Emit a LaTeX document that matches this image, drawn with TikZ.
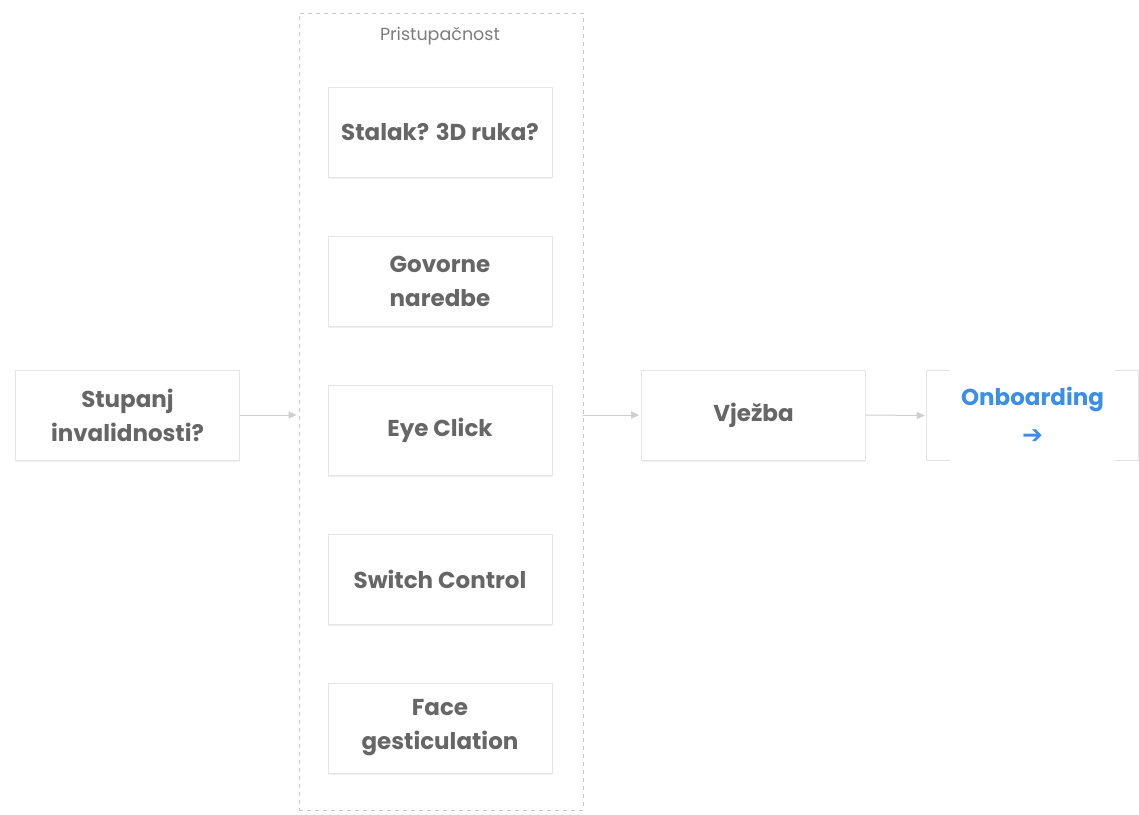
\documentclass[tikz,border=0pt]{standalone}
\usepackage{fontspec}
\setmainfont{Poppins}
\newfontfamily\arrowfont{DejaVu Sans}
\usetikzlibrary{arrows.meta,shadows}
\definecolor{txt}{HTML}{666666}
\definecolor{bord}{HTML}{E6E6E6}
\definecolor{conn}{HTML}{CFCFCF}
\definecolor{dash}{HTML}{C8C8C8}
\definecolor{blue}{HTML}{3B8FE8}
\tikzset{
  card/.style={draw=bord, line width=0.8pt, fill=white, minimum width=224pt, minimum height=90pt,
    align=center, text=txt, font=\fontsize{23}{34}\selectfont\bfseries,
    drop shadow={opacity=0.12, shadow xshift=0pt, shadow yshift=-1.5pt}},
  conn/.style={draw=conn, line width=1pt, shorten >=2pt, -{Triangle[length=8pt,width=7pt]}},
}
\begin{document}
\begin{tikzpicture}[x=1pt,y=-1pt]
\useasboundingbox[fill=white] (0,0) rectangle (1139,814);
\node[draw=dash, dashed, dash pattern=on 4pt off 4pt, line width=0.8pt, minimum width=284pt, minimum height=797pt] (cont) at (441,411.5) {};
\node[text=txt!85, font=\fontsize{17.5}{20}\selectfont] (lab) at (440,36) {Pristupačnost};
\node[card] (stup) at (127.5,415) {Stupanj\\invalidnosti?};
\node[card] (b1) at (440,132) {Stalak? 3D ruka?};
\node[card] (b2) at (440,281) {Govorne\\naredbe};
\node[card] (b3) at (440,430) {Eye Click};
\node[card] (b4) at (440,579) {Switch Control};
\node[card] (b5) at (440,728) {Face\\gesticulation};
\node[card] (vj) at (753.5,415) {Vježba};
\node[minimum width=211pt, minimum height=89pt, align=center, text=blue, font=\fontsize{23}{38}\selectfont\bfseries] (onb) at (1032.5,415.5) {Onboarding\\{\arrowfont\fontsize{25}{25}\selectfont ➔}};
\draw[draw=bord!80!black!40, line width=0.9pt] ([xshift=23pt]onb.north west) -- (onb.north west) -- (onb.south west) -- ([xshift=23pt]onb.south west);
\draw[draw=bord!80!black!40, line width=0.9pt] ([xshift=-23pt]onb.north east) -- (onb.north east) -- (onb.south east) -- ([xshift=-23pt]onb.south east);
\draw[conn] (stup.east) -- (stup.east -| cont.west);
\draw[conn] (vj.west -| cont.east) -- (vj.west);
\draw[conn] (vj.east) -- (onb.west);
\end{tikzpicture}
\end{document}
